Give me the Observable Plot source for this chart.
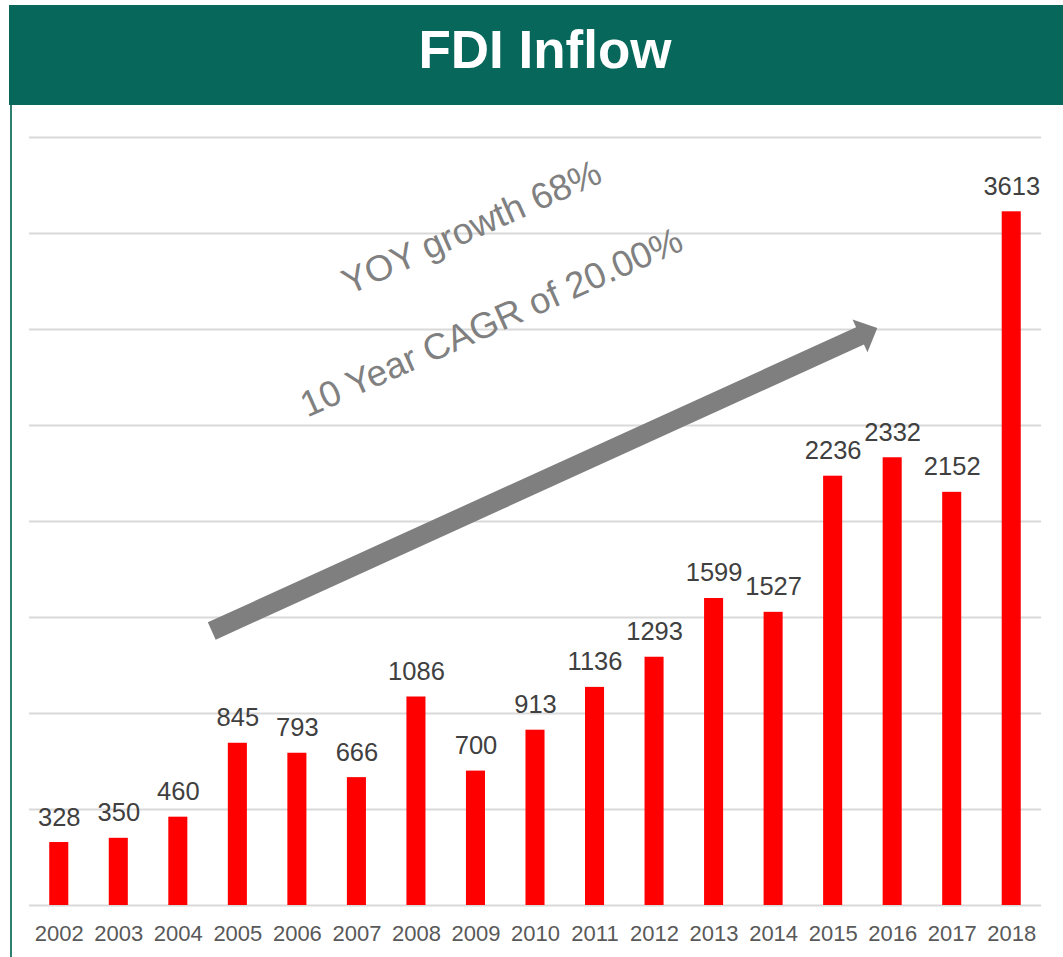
<!DOCTYPE html>
<html>
<head>
<meta charset="utf-8">
<script src="https://cdn.jsdelivr.net/npm/d3@7"></script>
<script src="https://cdn.jsdelivr.net/npm/@observablehq/plot@0.6"></script>
<style>
  html, body { margin: 0; padding: 0; background: #fff; }
  body { font-family: "Liberation Sans", Arial, sans-serif; }
  #wrap { position: relative; width: 1063px; height: 957px; overflow: hidden; }
  #banner { position: absolute; top: 5px; left: 9px; width: 1054px; height: 100px; background: #07675a;
    color: #fff; font-weight: bold; font-size: 53px; line-height: 90px; text-align: center; padding-left: 18px; box-sizing: border-box; }
  #leftline { position: absolute; left: 10px; top: 105px; width: 2px; height: 852px; background: #2e7f70; }
  #chart { position: absolute; left: 0; top: 105px; }
</style>
</head>
<body>
<div id="wrap">
  <div id="banner">FDI Inflow</div>
  <div id="leftline"></div>
  <div id="chart"></div>
</div>
<script>
const years = [2002, 2003, 2004, 2005, 2006, 2007, 2008, 2009, 2010, 2011, 2012, 2013, 2014, 2015, 2016, 2017, 2018];
const values = [328, 350, 460, 845, 793, 666, 1086, 700, 913, 1136, 1293, 1599, 1527, 2236, 2332, 2152, 3613];
const gridValues = [0, 500, 1000, 1500, 2000, 2500, 3000, 3500, 4000];

const noteTexts = ["YOY growth 68%", "10 Year CAGR of 20.00%"];
const noteYears = [2008.93, 2009.26];
const noteValues = [3530, 3035];

const arrowYears = [2004.57, 2015.75];
const arrowValues = [1427, 3005];

const data = years.map((year, i) => ({year, value: values[i]}));
const notes = noteTexts.map((text, i) => ({text, year: noteYears[i], value: noteValues[i]}));

function blockArrow(index, scales) {
  const x0 = scales.x(arrowYears[0]), y0 = scales.y(arrowValues[0]);
  const x1 = scales.x(arrowYears[1]), y1 = scales.y(arrowValues[1]);
  const len = Math.hypot(x1 - x0, y1 - y0);
  const ux = (x1 - x0) / len, uy = (y1 - y0) / len;
  const nx = -uy, ny = ux;
  const hw = 9.5, hh = 18, hl = 19;
  const bx = x1 - ux * hl, by = y1 - uy * hl;
  const pts = [
    [x0 + nx * hw, y0 + ny * hw],
    [bx + nx * hw, by + ny * hw],
    [bx + nx * hh, by + ny * hh],
    [x1, y1],
    [bx - nx * hh, by - ny * hh],
    [bx - nx * hw, by - ny * hw],
    [x0 - nx * hw, y0 - ny * hw]
  ];
  const path = d3.create("svg:path")
    .attr("d", "M" + pts.map(p => p.join(",")).join("L") + "Z")
    .attr("fill", "#7f7f7f");
  return path.node();
}

const chart = Plot.plot({
  width: 1063,
  height: 852,
  marginLeft: 29,
  marginRight: 22,
  marginTop: 32,
  marginBottom: 52,
  style: { fontFamily: "'Liberation Sans', Arial, sans-serif", background: "transparent" },
  x: { type: "linear", domain: [2001.5, 2018.5], axis: null },
  y: { domain: [0, 4000], axis: null },
  marks: [
    Plot.ruleY(gridValues, { stroke: "#d9d9d9", strokeWidth: 2 }),
    Plot.rect(data, { x1: d => d.year - 0.16, x2: d => d.year + 0.16, y1: 0, y2: "value", fill: "#ff0000" }),
    Plot.text(data, { x: "year", y: "value", text: d => String(d.value), dy: -17, lineAnchor: "bottom", fontSize: 25.5, fill: "#404040" }),
    Plot.axisX({ ticks: years, tickFormat: d => String(d), tickSize: 0, tickPadding: 20, fontSize: 22, color: "#595959", label: null }),
    blockArrow,
    Plot.text(notes, { x: "year", y: "value", text: "text", rotate: -24, fontSize: 36.5, fill: "#808080", textAnchor: "middle", lineAnchor: "middle" })
  ]
});
document.getElementById("chart").appendChild(chart);
</script>
</body>
</html>
